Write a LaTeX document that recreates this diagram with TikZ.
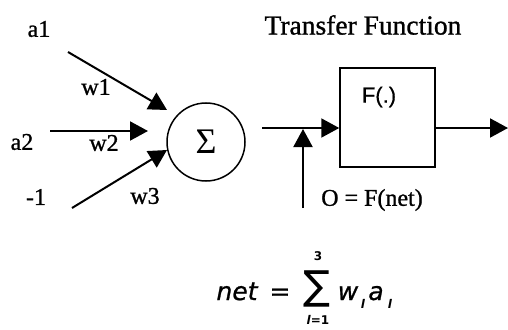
\documentclass[tikz,border=0pt]{standalone}
\usepackage{fontspec}
\setmainfont{Liberation Serif}
\newfontfamily\scanf{Liberation Serif}[FakeBold=1]
\newfontfamily\arialf{Liberation Sans}[FakeBold=0.5]
\newfontfamily\verdf{DejaVu Sans}
\newfontfamily\verdit{DejaVu Sans Oblique}[FakeBold=0.9]
\newfontfamily\verdup{DejaVu Sans}[FakeBold=0.9]
\usetikzlibrary{arrows.meta}
\begin{document}
\begin{tikzpicture}[x=1pt,y=-1pt,
  lbl/.style={inner sep=0pt,font=\scanf\fontsize{24}{25}\selectfont},
  conn/.style={line width=2pt,-{Triangle[length=18pt,width=19pt]}},
  fml/.style={inner sep=0pt,font=\verdit\fontsize{25}{26}\selectfont,anchor=base},
  sml/.style={inner sep=0pt,font=\verdf\bfseries\fontsize{12}{12}\selectfont}]
\useasboundingbox (0,0) rectangle (508,329);
% inputs
\node[lbl] (a1) at (39,29) {a1};
\node[lbl] (a2) at (22,142) {a2};
\node[lbl] (m1) at (36,197) {-1};
\node[lbl] (w1) at (96,87) {w1};
\node[lbl] (w2) at (104,143) {w2};
\node[lbl] (w3) at (145,196) {w3};
% summation
\node[draw,circle,line width=1.5pt,minimum size=78pt,inner sep=0pt,font=\fontsize{36}{36}\selectfont] (sum) at (206,142) {Σ};
\coordinate (s1) at (68,52);
\coordinate (e1) at (167,110);
\coordinate (s2) at (50,131);
\coordinate (e2) at (148,131);
\coordinate (s3) at (72,208);
\coordinate (e3) at (167,150);
\draw[conn] (s1) -- (e1);
\draw[conn] (s2) -- (e2);
\draw[conn] (s3) -- (e3);
% transfer function
\node[inner sep=0pt,font=\scanf\fontsize{27.5}{28}\selectfont] (tf) at (363,25) {Transfer Function};
\node[draw,line width=1.5pt,minimum width=95pt,minimum height=99pt,inner sep=0pt] (box) at (387.5,117.5) {};
\node[inner sep=0pt,font=\arialf\fontsize{22}{22}\selectfont] (Fdot) at (379,97) {F(.)};
\coordinate (inL) at (262,128);
\coordinate (boxin) at (box.west |- inL);
\coordinate (boxout) at (box.east |- inL);
\coordinate (outR) at (508,128);
\coordinate (bias) at (303,208);
\coordinate (biasT) at (303,129);
\draw[conn] (inL) -- (boxin);
\draw[conn] (bias) -- (biasT);
\draw[conn] (boxout) -- (outR);
\node[lbl] (ofn) at (372,200) {O = F(net)};
% formula
\node[fml] (net) at (237,300) {net};
\node[fml,font=\verdup\fontsize{25}{26}\selectfont] (eq) at (280,300) {=};
\node[inner sep=0pt,font=\verdf\fontsize{40}{40}\selectfont] (bigsum) at (317,289) {∑};
\node[sml] (up) at (318,256) {3};
\node[sml] (lo) at (318,320) {\itshape l\upshape=1};
\node[fml] (w) at (348,300) {w};
\node[sml,font=\verdf\bfseries\itshape\fontsize{12}{12}\selectfont] (wl) at (363,304) {l};
\node[fml] (a) at (376,300) {a};
\node[sml,font=\verdf\bfseries\itshape\fontsize{12}{12}\selectfont] (al) at (390,304) {l};
\end{tikzpicture}
\end{document}
